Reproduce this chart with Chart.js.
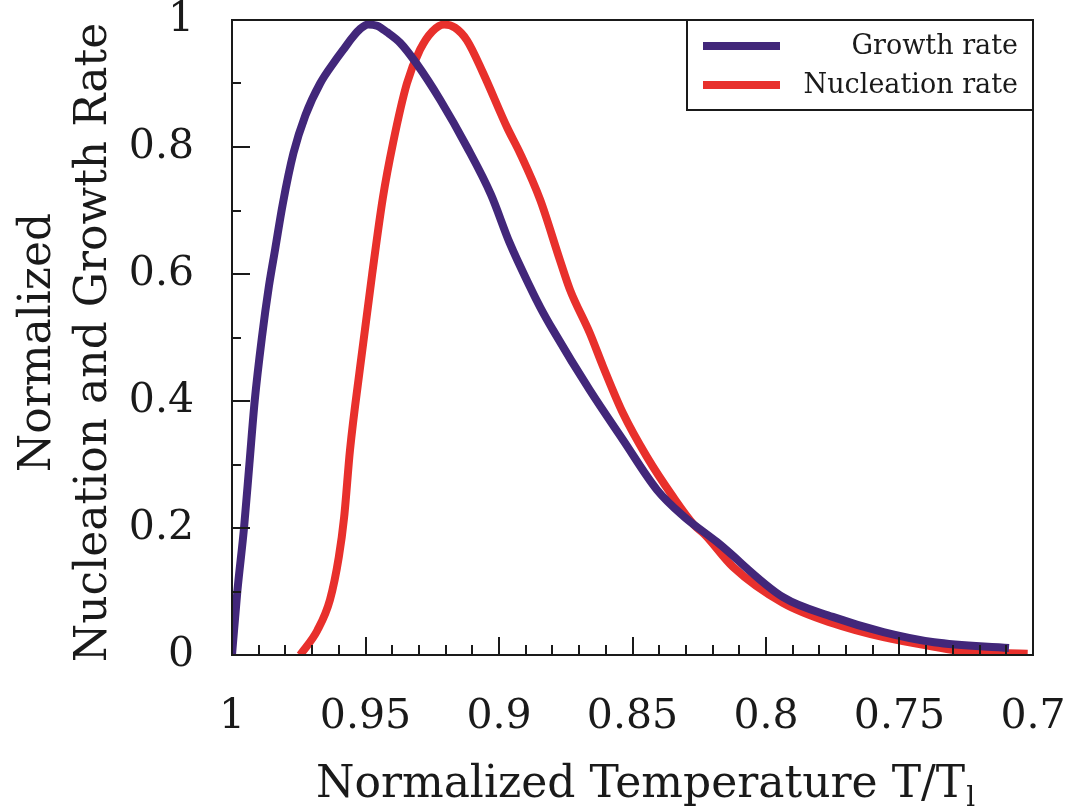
<!DOCTYPE html>
<html>
<head>
<meta charset="utf-8">
<script src="https://cdn.jsdelivr.net/npm/chart.js@4"></script>
<style>
  html, body { margin: 0; padding: 0; background: #fff; }
  #chart { display: block; }
</style>
</head>
<body>
<canvas id="chart" width="1070" height="807"></canvas>
<script>
// normalized temperature T/Tl and normalized rates
const growthT = [1.000, 0.998, 0.9955, 0.9935, 0.9915, 0.9888, 0.9862, 0.9838, 0.981, 0.977, 0.9725, 0.967, 0.9615,
  0.958, 0.955, 0.952, 0.949, 0.9457, 0.942, 0.937, 0.931, 0.922, 0.912, 0.903, 0.896, 0.8884, 0.8846, 0.8798,
  0.866, 0.8536, 0.8408, 0.831, 0.8184, 0.7936, 0.775, 0.756, 0.737, 0.709];
const growthRate = [0, 0.10, 0.20, 0.30, 0.40, 0.50, 0.58, 0.64, 0.71, 0.79, 0.85, 0.90, 0.935,
  0.955, 0.972, 0.986, 0.993, 0.991, 0.981, 0.964, 0.932, 0.874, 0.80, 0.725, 0.649, 0.58, 0.548, 0.512,
  0.417, 0.339, 0.26, 0.219, 0.178, 0.091, 0.06, 0.036, 0.02, 0.011];

const nucleationT = [0.9745, 0.968, 0.9633, 0.960, 0.958, 0.9558, 0.952, 0.9475, 0.9435, 0.9397, 0.9345, 0.9296,
  0.925, 0.9205, 0.9165, 0.912, 0.906, 0.897, 0.8921, 0.8846, 0.8772, 0.8734, 0.866, 0.861, 0.8536, 0.8446,
  0.8348, 0.827, 0.823, 0.8124, 0.7936, 0.775, 0.756, 0.737, 0.7247, 0.702];
const nucleationRate = [0, 0.039, 0.087, 0.154, 0.217, 0.323, 0.454, 0.60, 0.72, 0.806, 0.90, 0.953,
  0.982, 0.993, 0.988, 0.968, 0.917, 0.831, 0.790, 0.717, 0.622, 0.575, 0.507, 0.454, 0.381, 0.312,
  0.249, 0.205, 0.19, 0.139, 0.082, 0.05, 0.028, 0.013, 0.005, 0.002];

const seriesNames = ['Growth rate', 'Nucleation rate'];
const xTitle = 'Normalized Temperature T/T';
const xTitleSub = 'l';
const yTitle = ['Normalized', 'Nucleation and Growth Rate'];

const FONT = "'DejaVu Serif', 'Liberation Serif', serif";
const INK = '#1a1a1a';

function toPoints(xs, ys) {
  return xs.map((x, i) => ({ x: x, y: ys[i] }));
}

function noOverflow(s) {
  s.paddingTop = 0;
  s.paddingBottom = 0;
  s.paddingLeft = 0;
  s.paddingRight = 0;
}

// inward ticks, frame, titles and the boxed legend
const frame = {
  id: 'frame',
  afterDraw(chart) {
    const ctx = chart.ctx;
    const a = chart.chartArea;
    const xs = chart.scales.x;
    const ys = chart.scales.y;
    ctx.save();
    ctx.strokeStyle = INK;
    ctx.lineWidth = 2;
    ctx.strokeRect(a.left, a.top, a.right - a.left, a.bottom - a.top);

    ctx.beginPath();
    for (let i = 0; i <= 10; i++) {
      const py = Math.round(ys.getPixelForValue(i / 10));
      const len = i % 2 === 0 ? 18 : 9;
      ctx.moveTo(a.left, py);
      ctx.lineTo(a.left + len, py);
    }
    for (let i = 0; i <= 30; i++) {
      const px = Math.round(xs.getPixelForValue(0.7 + i / 100));
      const len = i % 5 === 0 ? 18 : 10;
      ctx.moveTo(px, a.bottom);
      ctx.lineTo(px, a.bottom - len);
    }
    ctx.stroke();

    // x title with subscript
    ctx.fillStyle = INK;
    ctx.font = '44px ' + FONT;
    ctx.textBaseline = 'alphabetic';
    ctx.textAlign = 'left';
    const w1 = ctx.measureText(xTitle).width;
    ctx.font = '28px ' + FONT;
    const w2 = ctx.measureText(xTitleSub).width;
    const x0 = 645 - (w1 + w2) / 2;
    ctx.font = '44px ' + FONT;
    ctx.fillText(xTitle, x0, 797);
    ctx.font = '28px ' + FONT;
    ctx.fillText(xTitleSub, x0 + w1 + 1, 806);

    // y title, two rotated lines
    ctx.font = '44px ' + FONT;
    ctx.textAlign = 'center';
    const yc = (a.top + a.bottom) / 2 + 5;
    [[yTitle[0], 50], [yTitle[1], 106]].forEach(([t, bx]) => {
      ctx.save();
      ctx.translate(bx, yc);
      ctx.rotate(-Math.PI / 2);
      ctx.fillText(t, 0, 0);
      ctx.restore();
    });

    // legend
    const lx = 687, ly = a.top, lw = a.right - 687, lh = 90;
    ctx.fillStyle = '#fff';
    ctx.fillRect(lx, ly, lw, lh);
    ctx.strokeStyle = INK;
    ctx.lineWidth = 2;
    ctx.strokeRect(lx, ly, lw, lh);
    ctx.font = '27px ' + FONT;
    ctx.textAlign = 'right';
    ctx.textBaseline = 'middle';
    chart.data.datasets.forEach((ds, i) => {
      const cy = ly + 26 + i * 39;
      ctx.strokeStyle = ds.borderColor;
      ctx.lineWidth = 8;
      ctx.beginPath();
      ctx.moveTo(703, cy);
      ctx.lineTo(780, cy);
      ctx.stroke();
      ctx.fillStyle = INK;
      ctx.fillText(ds.label, 1018, cy + 1);
    });
    ctx.restore();
  }
};

new Chart(document.getElementById('chart'), {
  type: 'line',
  data: {
    datasets: [
      {
        label: seriesNames[0],
        data: toPoints(growthT, growthRate),
        borderColor: '#42277a',
        borderWidth: 8,
        pointRadius: 0,
        cubicInterpolationMode: 'monotone',
        fill: false
      },
      {
        label: seriesNames[1],
        data: toPoints(nucleationT, nucleationRate),
        borderColor: '#e8302c',
        borderWidth: 8,
        pointRadius: 0,
        cubicInterpolationMode: 'monotone',
        fill: false
      }
    ]
  },
  options: {
    responsive: false,
    animation: false,
    layout: { padding: { top: 20, right: 37, left: 0, bottom: 0 } },
    plugins: {
      legend: { display: false },
      tooltip: { enabled: false }
    },
    scales: {
      x: {
        type: 'linear',
        reverse: true,
        min: 0.7,
        max: 1,
        grid: { display: false },
        border: { display: false },
        ticks: {
          stepSize: 0.05,
          padding: 30,
          maxRotation: 0,
          autoSkip: false,
          color: INK,
          font: { family: FONT, size: 41 },
          callback: v => String(Math.round(v * 100) / 100)
        },
        afterFit: s => { s.height = 152; noOverflow(s); }
      },
      y: {
        min: 0,
        max: 1,
        grid: { display: false },
        border: { display: false },
        ticks: {
          stepSize: 0.2,
          padding: 30,
          color: INK,
          font: { family: FONT, size: 41 },
          callback: v => String(Math.round(v * 10) / 10)
        },
        afterFit: s => { s.width = 232; noOverflow(s); }
      }
    }
  },
  plugins: [frame]
});
</script>
</body>
</html>
